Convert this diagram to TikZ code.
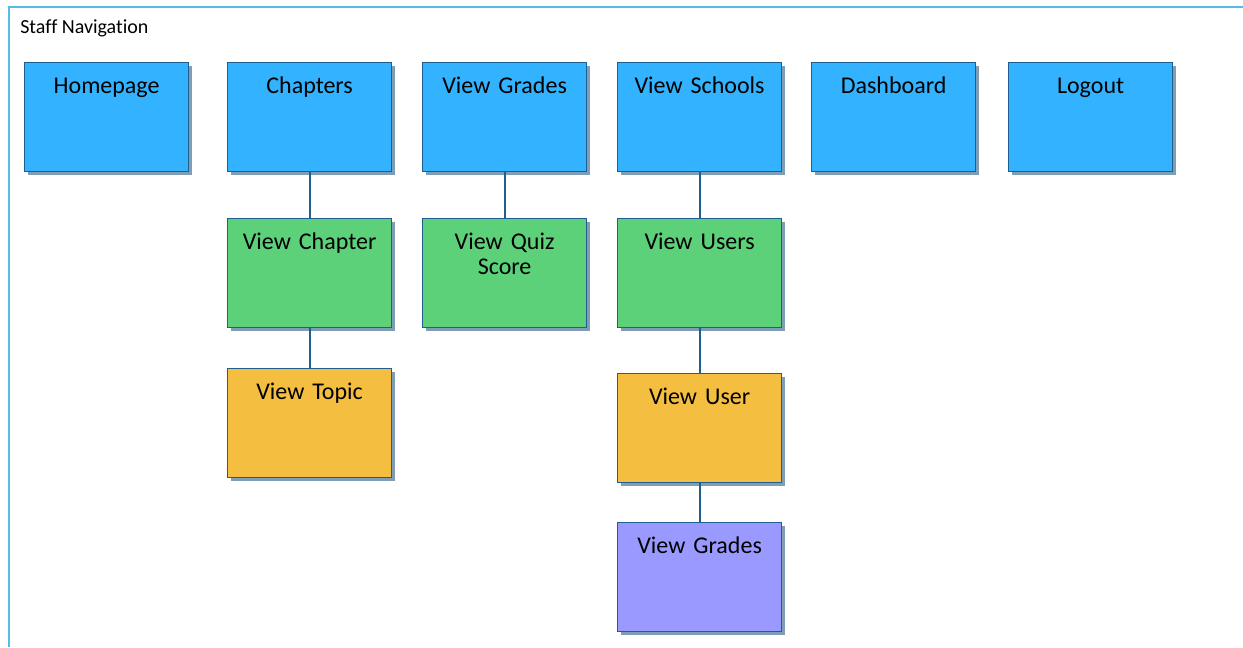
\documentclass[tikz,border=0pt]{standalone}
\usepackage{fontspec}
\setmainfont{Carlito}[RawFeature=-liga]
\usetikzlibrary{shadows}
\definecolor{frameblue}{HTML}{55BBE8}
\definecolor{edgeblue}{HTML}{1F5F8F}
\definecolor{shadowc}{HTML}{7F9DB5}
\definecolor{topblue}{HTML}{33B3FF}
\definecolor{midgreen}{HTML}{5CD17A}
\definecolor{lowgold}{HTML}{F4BF40}
\definecolor{leafviolet}{HTML}{9999FF}
\tikzset{
  page/.style={draw=edgeblue, line width=0.9pt,
    general shadow={fill=shadowc, shadow xshift=2.4pt, shadow yshift=-2.4pt},
    anchor=north west, inner sep=0pt, minimum width=123pt, minimum height=81.75pt,
    text width=123pt, align=center, text height=23.25pt, text depth=58.5pt,
    font=\fontsize{18}{18.75}\selectfont},
  link/.style={draw=edgeblue, line width=1.4pt},
  frameline/.style={draw=frameblue, line width=0.8pt}
}
\begin{document}
\begin{tikzpicture}[x=0.75pt,y=-0.75pt]
\useasboundingbox (0,0) rectangle (1243,647);
\fill[white] (0,0) rectangle (1243,647);
% outer frame
\coordinate (fTR) at (1243,7);
\coordinate (fTL) at (9,7);
\coordinate (fBL) at (9,647);
\draw[frameline] (fTR) -- (fTL) -- (fBL);
\node[anchor=base west, inner sep=0pt, font=\fontsize{15}{18}\selectfont] (title) at (20,33) {Staff Navigation};
% top row
\node[page, fill=topblue] (home) at (24,62) {Homepage};
\node[page, fill=topblue] (chap) at (227,62) {Chapters};
\node[page, fill=topblue] (grades) at (422,62) {View Grades};
\node[page, fill=topblue] (schools) at (617,62) {View Schools};
\node[page, fill=topblue] (dash) at (811,62) {Dashboard};
\node[page, fill=topblue] (logout) at (1008,62) {Logout};
% second row
\node[page, fill=midgreen] (vchap) at (227,218) {View Chapter};
\node[page, fill=midgreen] (quiz) at (422,218) {View Quiz\\Score};
\node[page, fill=midgreen] (users) at (617,218) {View Users};
% third row
\node[page, fill=lowgold] (topic) at (227,368) {View Topic};
\node[page, fill=lowgold] (user) at (617,373) {View User};
% fourth row
\node[page, fill=leafviolet] (ugrades) at (617,522) {View Grades};
% connectors
\draw[link] (chap.south) -- (vchap.north);
\draw[link] (vchap.south) -- (topic.north);
\draw[link] (grades.south) -- (quiz.north);
\draw[link] (schools.south) -- (users.north);
\draw[link] (users.south) -- (user.north);
\draw[link] (user.south) -- (ugrades.north);
\end{tikzpicture}
\end{document}
